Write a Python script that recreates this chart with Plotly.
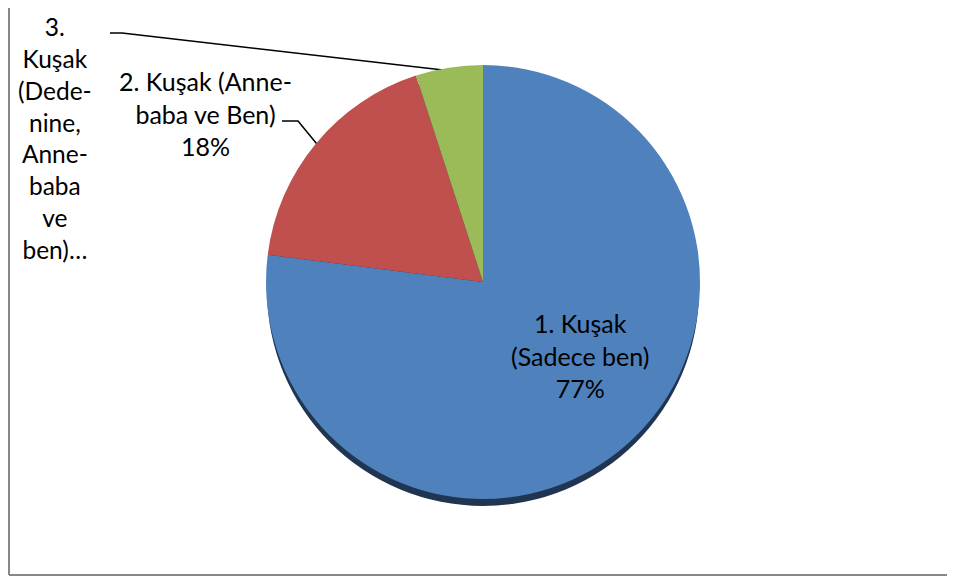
import math
import plotly.graph_objects as go

# ---- data ----
categories = ["1. Kuşak (Sadece ben)", "2. Kuşak (Anne-baba ve Ben)", "3. Kuşak (Dede-nine, Anne-baba ve ben)"]
values = [77, 18, 5]
label_texts = [
    "1. Kuşak<br>(Sadece ben)<br>77%",
    "2. Kuşak (Anne-<br>baba ve Ben)<br>18%",
    "3.<br>Kuşak<br>(Dede-<br>nine,<br>Anne-<br>baba<br>ve<br>ben)…",
]
colors = ["#4F81BD", "#C0504D", "#9BBB59"]

# ---- layout constants (page pixels) ----
PAGE_W, PAGE_H = 955, 578
OFF = 8  # default body margin of the html page
W, H = PAGE_W - OFF, PAGE_H - OFF
CX, CY, R = 483 - OFF, 282 - OFF, 217
SHADOW_DY = 8
FONT = "Lato, Calibri, sans-serif"
label_sizes = [25, 25, 24.5]

label_pos = [(580, 355), (205, 113), (55, 138)]
leader_start = [None, [(282, 121), (298, 121)], [(110, 33), (122, 33)]]


def domain_for(cx, cy, r):
    return dict(x=[(cx - r) / W, (cx + r) / W], y=[(H - cy - r) / H, (H - cy + r) / H])


fig = go.Figure()

# shadow disc
fig.add_trace(go.Pie(values=[1], marker=dict(colors=["#1F3552"], line=dict(width=0)),
                     textinfo="none", hoverinfo="skip", showlegend=False, sort=False,
                     domain=domain_for(CX, CY + SHADOW_DY, R - 1)))

# main pie
fig.add_trace(go.Pie(labels=categories, values=values, sort=False, direction="clockwise",
                     rotation=0, marker=dict(colors=colors, line=dict(width=0)),
                     textinfo="none", showlegend=False,
                     domain=domain_for(CX, CY, R)))

# geometry of slices for leader lines
total = sum(values)
cum = 0
mids = []
for v in values:
    mids.append((cum + v / 2) / total * 360)
    cum += v

for i, txt in enumerate(label_texts):
    lx, ly = label_pos[i]
    fig.add_annotation(x=lx - OFF, y=ly - OFF, xref="x", yref="y", text=txt, showarrow=False,
                       font=dict(family=FONT, size=label_sizes[i], color="#000000"), align="center")
    if leader_start[i]:
        a = math.radians(mids[i])
        tx = CX + (R - 3) * math.sin(a)
        ty = CY - (R - 3) * math.cos(a)
        pts = [(x - OFF, y - OFF) for x, y in leader_start[i]] + [(tx, ty)]
        fig.add_trace(go.Scatter(x=[p[0] for p in pts], y=[p[1] for p in pts], mode="lines",
                                 line=dict(color="#000000", width=1.5), hoverinfo="skip",
                                 showlegend=False))

# frame (left and bottom edges visible)
frame = dict(color="#878787", width=2)
fig.add_shape(type="line", x0=1, x1=1, y0=0, y1=575 - OFF, xref="x", yref="y", line=frame)
fig.add_shape(type="line", x0=1, x1=W, y0=575 - OFF, y1=575 - OFF, xref="x", yref="y", line=frame)

fig.update_layout(
    width=W, height=H, margin=dict(l=0, r=0, t=0, b=0),
    paper_bgcolor="white", plot_bgcolor="rgba(0,0,0,0)",
    xaxis=dict(range=[0, W], visible=False, fixedrange=True),
    yaxis=dict(range=[H, 0], visible=False, fixedrange=True),
)

fig.write_html("out.html")
